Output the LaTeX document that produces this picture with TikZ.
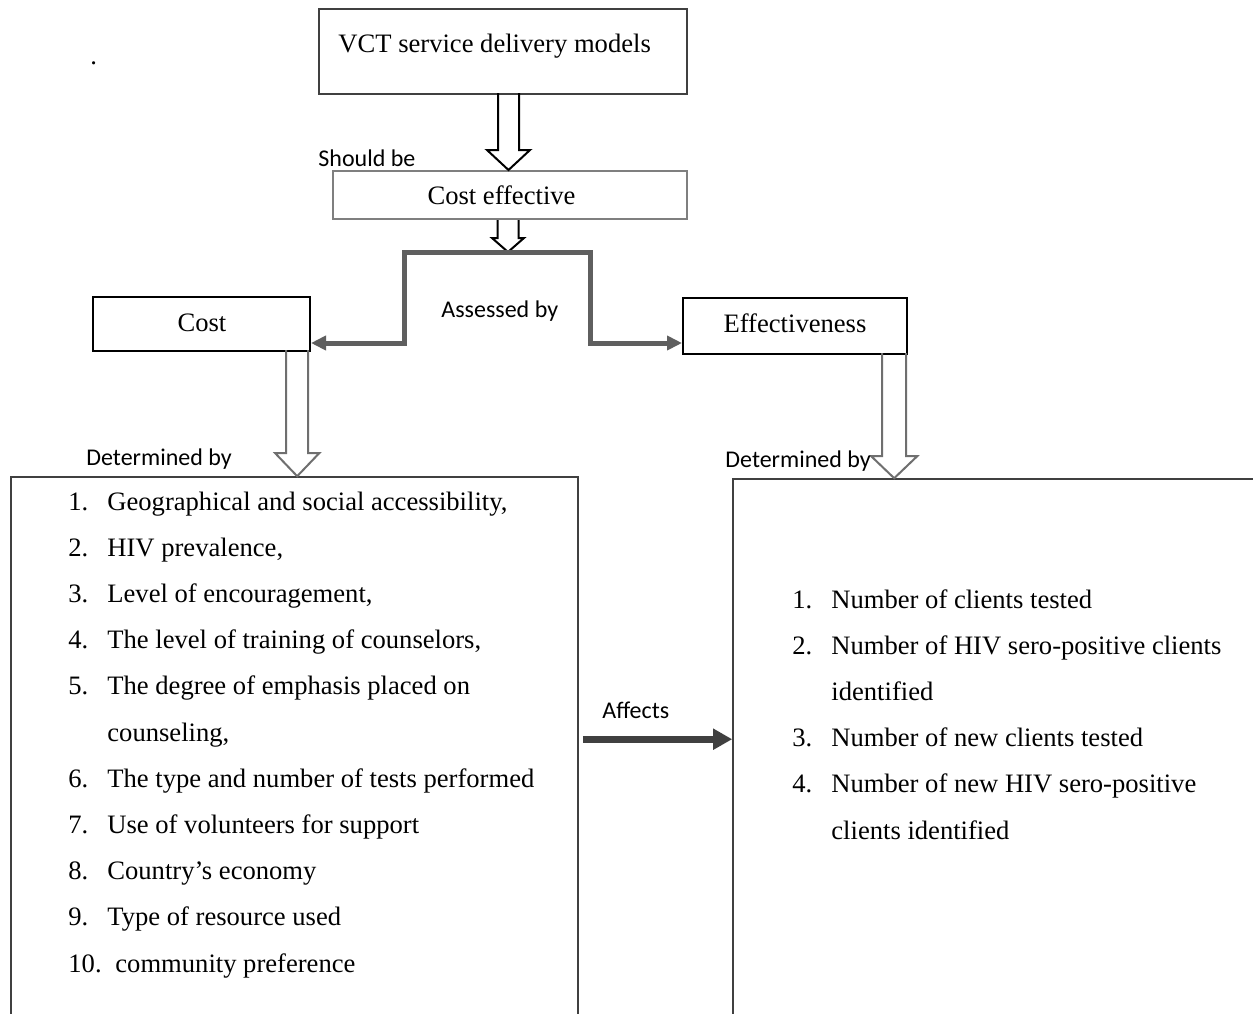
\documentclass[tikz,border=0pt]{standalone}
\usepackage{fontspec}
\setmainfont{Liberation Serif}
\newfontfamily\calib{Carlito}
\usetikzlibrary{arrows.meta,calc}
\definecolor{boxdark}{HTML}{404040}
\definecolor{cegray}{HTML}{7F7F7F}
\definecolor{connc}{HTML}{5F5F5F}
\definecolor{affc}{HTML}{404040}
\definecolor{arrgray}{HTML}{6F6F6F}
\newcommand\hollowarr[6]{\draw[#1] ($(#2)+(-#4,-#3)$) -- ($(#2)+(-#4,-#6)$) -- ($(#2)+(-#5,-#6)$) -- (#2) -- ($(#2)+(#5,-#6)$) -- ($(#2)+(#4,-#6)$) -- ($(#2)+(#4,-#3)$);}
\begin{document}
\begin{tikzpicture}[x=0.5pt,y=-0.5pt,
  box/.style={draw, inner sep=0, line width=1pt},
  serif/.style={font=\fontsize{13.3}{16}\selectfont, inner sep=0},
  lab/.style={font=\calib\fontsize{12}{14}\selectfont, inner sep=0},
  conn/.style={line width=2.5pt, draw=connc, line join=miter, -{Triangle[length=7.5pt,width=7pt]}},
  aff/.style={line width=3.5pt, draw=affc, -{Triangle[length=9.5pt,width=10pt]}},
  hollow/.style={line width=1pt, line join=miter}]
\useasboundingbox (0,0) rectangle (1253,1013);
\fill[white] (0,0) rectangle (1253,1013);
\clip (0,0) rectangle (1253,1013);

% boxes
\node[box, draw=boxdark, minimum width=184pt, minimum height=42.5pt] (vct) at (503,51.5) {};
\node[serif, anchor=base west] (vcttxt) at (338,52) {VCT service delivery models};
\node[box, draw=cegray, minimum width=177pt, minimum height=24pt] (ce) at (510,195) {};
\node[serif, anchor=base] (cetxt) at (501.5,204) {Cost effective};
\node[box, draw=black, minimum width=108.5pt, minimum height=27pt] (cost) at (201.5,324) {};
\node[serif, anchor=base] (costtxt) at (202,331) {Cost};
\node[box, draw=black, minimum width=112pt, minimum height=28pt] (eff) at (795,326) {};
\node[serif, anchor=base] (efftxt) at (795,332) {Effectiveness};
\node[box, draw=boxdark, line width=0.8pt, minimum width=283.5pt, minimum height=281.5pt] (lbox) at (294.5,758.5) {};
\node[box, draw=boxdark, line width=0.8pt, minimum width=273.5pt, minimum height=280.5pt] (rbox) at (1006.5,759.5) {};

% dot
\node[serif, anchor=base west] (dot) at (90,64) {.};

% hollow block arrows
\coordinate (t1) at ($(ce.north)+(-1.5,0)$);
\hollowarr{hollow, draw=black}{t1}{77}{10.5}{21.5}{20}
\coordinate (split) at ($(ce.south)+(-2,32)$);
\hollowarr{hollow, draw=black}{split}{32}{10.5}{16}{14}
\coordinate (t3) at ($(lbox.north west)+(287,0)$);
\hollowarr{hollow, draw=arrgray}{t3}{126}{11}{22}{23}
\coordinate (t4) at ($(rbox.north west)+(162,0)$);
\hollowarr{hollow, draw=arrgray}{t4}{125}{12}{23}{22}

% connectors
\draw[conn] (split) -- ++(-104,0) |- ($(cost.south east)+(0,-9)$);
\draw[conn] (split) -- ++(82,0) |- ($(eff.south west)+(0,-12)$);
\draw[aff] ($(lbox.north east)+(4,263)$) -- ($(rbox.north west)+(0,261)$);

% labels
\node[lab, anchor=base west] (should) at (318,166) {Should be};
\node[lab, anchor=base west] (assessed) at (441,317) {Assessed by};
\node[lab, anchor=base west] (detl) at (86,465) {Determined by};
\node[lab, anchor=base west] (detr) at (725,467) {Determined by};
\node[lab, anchor=base west] (affects) at (602,718) {Affects};

% left list
\foreach \k/\n/\t/\tx in {0/{1.}/{Geographical and social accessibility,}/107,
                          1/{2.}/{HIV prevalence,}/107,
                          2/{3.}/{Level of encouragement,}/107,
                          3/{4.}/{The level of training of counselors,}/107,
                          4/{5.}/{The degree of emphasis placed on}/107,
                          5/{}/{counseling,}/107,
                          6/{6.}/{The type and number of tests performed}/107,
                          7/{7.}/{Use of volunteers for support}/107,
                          8/{8.}/{Country’s economy}/107,
                          9/{9.}/{Type of resource used}/107,
                          10/{10.}/{community preference}/115}{
  \node[serif, anchor=base west] (ln\k) at (68,510+\k*46.2) {\n};
  \node[serif, anchor=base west] (lt\k) at (\tx,510+\k*46.2) {\t};
}
% right list
\foreach \k/\n/\t in {0/{1.}/{Number of clients tested},
                      1/{2.}/{Number of HIV sero-positive clients},
                      2/{}/{identified},
                      3/{3.}/{Number of new clients tested},
                      4/{4.}/{Number of new HIV sero-positive},
                      5/{}/{clients identified}}{
  \node[serif, anchor=base west] (rn\k) at (792,608+\k*46.2) {\n};
  \node[serif, anchor=base west] (rt\k) at (831,608+\k*46.2) {\t};
}
\end{tikzpicture}
\end{document}
